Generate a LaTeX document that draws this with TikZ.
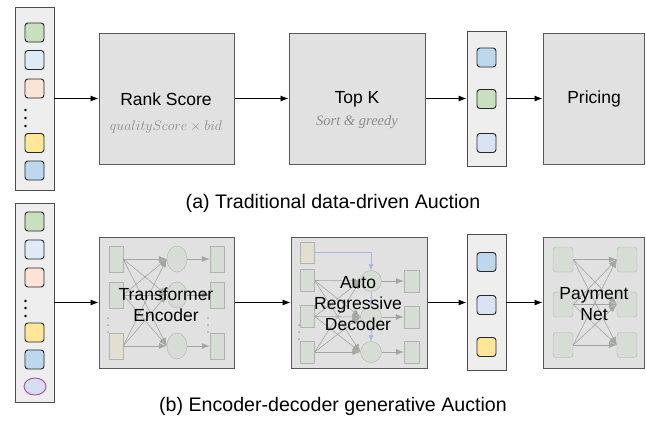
\documentclass[tikz,border=0pt]{standalone}
\usepackage{fix-cm}
\usepackage{fontspec}
\setmainfont{Liberation Sans}
\newfontfamily\serifface{Liberation Serif}
\usetikzlibrary{positioning,shapes.geometric,arrows.meta,calc}
\definecolor{cgreen}{RGB}{200,224,190}
\definecolor{clight}{RGB}{222,234,246}
\definecolor{cpeach}{RGB}{251,228,214}
\definecolor{cyellow}{RGB}{255,230,153}
\definecolor{cblue}{RGB}{189,215,238}
\definecolor{clav}{RGB}{218,227,243}
\definecolor{cstage}{RGB}{225,225,225}
\definecolor{ccol}{RGB}{238,238,238}
\definecolor{cunit}{RGB}{214,221,212}
\definecolor{cbeige}{RGB}{226,223,209}
\definecolor{cwire}{RGB}{165,165,165}
\definecolor{cflow}{RGB}{160,185,225}
\tikzset{
    >=Latex, % filled arrow heads
    stage/.style={draw=black!65, fill=cstage, line width=1pt, inner sep=0pt},
    column/.style={draw=black!70, fill=ccol, line width=0.9pt, minimum width=39pt, inner sep=0pt},
    item/.style={draw=black!85, line width=0.9pt, rounded corners=3pt, minimum size=19pt, inner sep=0pt},
    link/.style={-{Latex[length=8pt,width=6pt]}, line width=0.9pt},
    title/.style={font=\fontsize{17.5}{21}\selectfont, align=center, inner sep=0pt},
    sub/.style={font=\fontsize{14}{16}\selectfont, text=black!45, inner sep=0pt},
    caption/.style={font=\fontsize{19.6}{23}\selectfont, inner sep=0pt},
    unit/.style={draw=black!30, fill=cunit, minimum width=14pt, minimum height=26pt, inner sep=0pt},
    cell/.style={draw=black!30, fill=cunit, ellipse, minimum width=20pt, minimum height=26pt, inner sep=0pt},
    wire/.style={-{Latex[length=8pt,width=6pt]}, draw=cwire, line width=0.6pt},
    flow/.style={-{Latex[length=6pt,width=5pt]}, draw=cflow, line width=0.7pt},
}
\begin{document}
\begin{tikzpicture}[x=1pt,y=-1pt]
\useasboundingbox (0,0) rectangle (646,421);

% (a) traditional auction
\node[column, minimum height=183pt] (colA) at (34.5,98.5) {};
\foreach \c/\y [count=\i] in {cgreen/32.5, clight/60, cpeach/88.5, cyellow/143, cblue/170.5}
  \node[item, fill=\c] (a\i) at (34.5,\y) {};
\foreach \y in {110,118,126} \fill (25.5,\y) circle (1.3pt);

\node[stage, minimum width=135pt, minimum height=131pt] (rank) at (166.5,98.5) {};
\node[title] (rankT) at (166,99) {Rank Score};
\node[sub, below=15pt of rankT.base] (rankS) {$qualityScore\times bid$};

\node[stage, minimum width=136pt, minimum height=131pt] (topk) at (357,98.5) {};
\node[title] (topkT) at (357,99) {Top K};
\node[sub, font=\fontsize{14.5}{16}\selectfont, below=12pt of topkT.base] (topkS) {\serifface\itshape Sort \& greedy};

\node[column, minimum height=135pt] (outA) at (486.5,98.5) {};
\foreach \c/\y [count=\i] in {cblue/57.5, cgreen/99, clav/143}
  \node[item, fill=\c] (o\i) at (486.5,\y) {};

\node[stage, minimum width=101pt, minimum height=131pt] (pricing) at (593.5,98.5) {};
\node[title] (pricingT) at (594,99) {Pricing};

\draw[link] (colA.east) -- (rank.west);
\draw[link] (rank.east) -- (topk.west);
\draw[link] (topk.east) -- (outA.west);
\draw[link] (outA.east) -- (pricing.west);

\node[caption] (capA) at (333,203) {(a) Traditional data-driven Auction};

% (b) generative auction
\node[column, minimum height=199pt] (colB) at (34.5,302.5) {};
\foreach \c/\y [count=\i] in {cgreen/221.5, clight/249.5, cpeach/277.5, cyellow/332.5, cblue/359.5}
  \node[item, fill=\c] (b\i) at (34.5,\y) {};
\node[ellipse, draw=violet!70, fill=cflow!45, line width=0.9pt, minimum width=22pt, minimum height=17pt, inner sep=0pt] (b6) at (35,386.5) {};
\foreach \y in {301,308,316} \fill (25.5,\y) circle (1.3pt);

% encoder
\node[stage, minimum width=135pt, minimum height=131pt] (enc) at (166.5,302.5) {};
\foreach \y [count=\i] in {259,295,346} {
  \node[unit] (el\i) at (116,\y) {};
  \node[cell] (ec\i) at (177,\y) {};
  \node[unit] (er\i) at (217,\y) {};
}
\node[unit, fill=cbeige] at (el3) {};
\foreach \i in {1,2,3} {
  \foreach \j in {1,2,3}
    \draw[wire] (el\i.east) -- (ec\j.west);
  \draw[wire] (ec\i.east) -- (er\i.west);
}
\foreach \y in {318,325,332} {
  \fill[black!35] (108,\y) circle (1pt);
  \fill[black!35] (208,\y) circle (1pt);
}
\node[title] (encT) at (166,305) {Transformer\\Encoder};

% decoder
\node[stage, minimum width=136pt, minimum height=131pt] (dec) at (359,302.5) {};
\node[unit, fill=cbeige, minimum height=21pt] (d0) at (307.5,252.5) {};
\foreach \y/\z [count=\i] in {281/280.5, 317/316.5, 352/352} {
  \node[unit, minimum height=22pt] (dl\i) at (307.5,\z) {};
  \node[cell, circle, minimum size=21pt] (dc\i) at (371,\y) {};
  \node[unit, minimum width=15pt, minimum height=22pt] (dr\i) at (411.5,\y) {};
}
\foreach \i in {1,2,3} {
  \foreach \j in {1,2,3}
    \draw[wire] (dl\i.east) -- (dc\j.west);
  \draw[wire] (dc\i.east) -- (dr\i.west);
}
\draw[flow] (d0.east) -| (dc1.north);
\draw[flow] (dc1.south) -- (dc2.north);
\draw[flow] (dc2.south) -- (dc3.north);
\foreach \y in {325,332,339} \fill[black!35] (299,\y) circle (1pt);
\node[title] (decT) at (358,304) {Auto\\Regressive\\Decoder};

\node[column, minimum height=136pt] (outB) at (486.5,302.5) {};
\foreach \c/\y [count=\i] in {cblue/262, clav/305, cyellow/347}
  \node[item, fill=\c] (q\i) at (486.5,\y) {};

% payment network
\node[stage, minimum width=101pt, minimum height=131pt] (pay) at (593.5,302.5) {};
\foreach \y [count=\i] in {259.5,304.5,345} {
  \node[unit, rounded corners=3pt, minimum width=20pt, minimum height=25pt] (pl\i) at (563,\y) {};
  \node[unit, rounded corners=3pt, minimum width=20pt, minimum height=25pt] (pr\i) at (627,\y) {};
}
\foreach \i in {1,2,3}
  \foreach \j in {1,2,3}
    \draw[wire] (pl\i.east) -- (pr\j.west);
\node[title] (payT) at (594,304.5) {Payment\\Net};

\draw[link] (colB.east) -- (enc.west);
\draw[link] (enc.east) -- (dec.west);
\draw[link] (dec.east) -- (outB.west);
\draw[link] (outB.east) -- (pay.west);

\node[caption] (capB) at (333,406) {(b) Encoder-decoder generative Auction};
\end{tikzpicture}
\end{document}
